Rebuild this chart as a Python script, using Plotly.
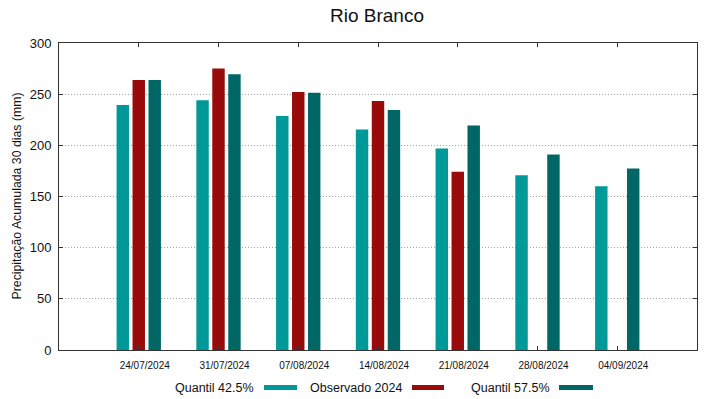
import plotly.graph_objects as go

dates = ["24/07/2024", "31/07/2024", "07/08/2024", "14/08/2024",
         "21/08/2024", "28/08/2024", "04/09/2024"]
q425 = [239.5, 244.0, 228.7, 215.4, 196.8, 170.8, 160.1]
obs2024 = [263.9, 275.2, 252.2, 243.4, 174.1, None, None]
q575 = [263.9, 269.4, 251.5, 234.6, 219.3, 191.0, 177.3]

series_names = ["Quantil 42.5%", "Observado 2024", "Quantil 57.5%"]
colors = ["#009999", "#990b0b", "#006666"]
yticks = [0, 50, 100, 150, 200, 250, 300]

FONT = "Liberation Sans, Arial, sans-serif"
L, R, T, B = 59, 22, 43, 49
PW, PH = 719 - L - R, 399 - T - B

fig = go.Figure()
for name, vals, col in zip(series_names, [q425, obs2024, q575], colors):
    fig.add_trace(go.Bar(x=dates, y=vals, name=name, marker_color=col,
                         marker_line_width=0, showlegend=False))

fig.update_layout(
    width=719, height=399,
    margin=dict(l=L, r=R, t=T, b=B, autoexpand=False),
    paper_bgcolor="white", plot_bgcolor="white",
    barmode="group", bargap=0.4, bargroupgap=0.22,
    font=dict(family=FONT, color="#111111"),
    title=dict(text="Rio Branco", x=377 / 719, xanchor="center",
               y=1 - 15 / 399, yanchor="middle",
               font=dict(size=19, family=FONT, color="#111111")),
    showlegend=False,
)

fig.update_xaxes(
    type="category", range=[-1, 7], automargin=False,
    showline=True, linecolor="#333333", linewidth=1, mirror="ticks",
    ticks="inside", ticklen=4, tickcolor="#333333",
    showgrid=False, tickfont=dict(size=10, family=FONT, color="#111111"),
    ticklabelshift=6, ticklabelstandoff=6,
)
fig.update_yaxes(
    range=[0, 300], tickvals=yticks, automargin=False,
    showline=True, linecolor="#333333", linewidth=1, mirror="ticks",
    ticks="inside", ticklen=4, tickcolor="#333333",
    showgrid=True, gridcolor="#a0a0a0", griddash="1px,2px", gridwidth=1,
    zeroline=False, tickfont=dict(size=13, family=FONT, color="#111111"),
    ticklabelstandoff=4,
)

# y-axis title
fig.add_annotation(text="Precipitação Acumulada 30 dias (mm)", xref="paper", yref="paper",
                   x=-(L - 16) / PW, y=0.5, xanchor="center", yanchor="middle",
                   textangle=-90, showarrow=False,
                   font=dict(size=12.3, family=FONT, color="#111111"))

# gnuplot-style legend: text followed by sample
legend_text_right = [256, 404, 552]
sample_x = [(264, 297), (412, 444), (559, 593)]
ly = -(387.5 - (T + PH)) / PH
for name, col, tx, (x0, x1) in zip(series_names, colors, legend_text_right, sample_x):
    fig.add_annotation(text=name, xref="paper", yref="paper",
                       x=(tx - L) / PW, y=ly,
                       xanchor="right", yanchor="middle", showarrow=False,
                       font=dict(size=12.5, family=FONT, color="#111111"))
    fig.add_shape(type="line", xref="paper", yref="paper",
                  x0=(x0 - L) / PW, x1=(x1 - L) / PW, y0=ly, y1=ly,
                  line=dict(color=col, width=5))

fig.write_html("out.html", config={"displayModeBar": False},
               post_script="document.body.style.margin='0px';document.body.style.overflow='hidden';")
